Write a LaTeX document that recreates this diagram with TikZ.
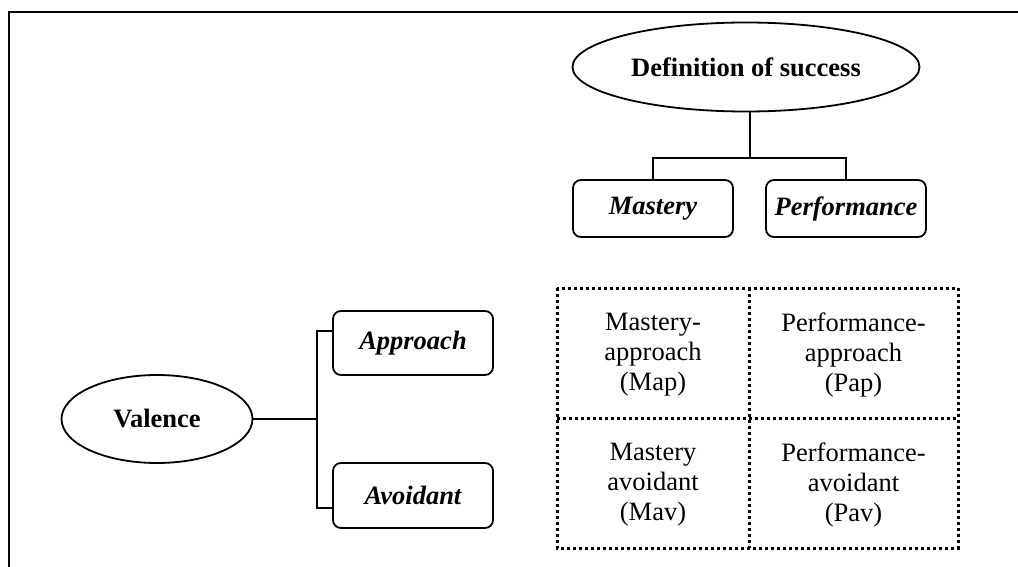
\documentclass[tikz,border=0pt]{standalone}
\usepackage{fontspec}
\setmainfont{Liberation Serif}
\usetikzlibrary{shapes.geometric,calc}
\begin{document}
\begin{tikzpicture}[x=1pt,y=-1pt,
  every node/.style={font=\fontsize{26.5}{30}\selectfont, inner sep=0pt},
  oval/.style={ellipse, draw, line width=1.8pt, font=\fontsize{26.5}{30}\selectfont\bfseries},
  catbox/.style={rectangle, rounded corners=8pt, draw, line width=1.8pt, minimum width=160pt, font=\fontsize{26.5}{30}\selectfont\bfseries\itshape},
  cell/.style={align=center},
  link/.style={line width=1.8pt},
  gridline/.style={line width=3pt, dash pattern=on 3pt off 3pt}]
\useasboundingbox (0,0) rectangle (1018,567);
\draw[line width=2.5pt] (9,567) -- (9,12) -- (1018,12);
% top part
\node[oval, minimum width=347pt, minimum height=89pt] (def) at (746,67) {Definition of success};
\node[catbox, minimum height=57pt] (mast) at (653,208.5) {Mastery};
\node[catbox, minimum height=57pt] (perf) at (846,208.5) {Performance};
\coordinate (jt) at (750,158);
\draw[link] (def.south -| jt) -- (jt);
\draw[link] (mast.north) |- (jt -| perf.north) -- (perf.north);
% left part
\node[oval, minimum width=191pt, minimum height=88pt] (val) at (157,419) {Valence};
\node[catbox, minimum height=64pt] (app) at (413,343) {Approach};
\node[catbox, minimum height=65pt] (avo) at (413,495.5) {Avoidant};
\coordinate (vj) at (317,419);
\draw[link] (val.east) -- (vj);
\draw[link] ($(app.north west)+(0,21)$) -| (vj) |- ($(avo.south west)+(0,-21)$);
% grid
\node[cell] (map) at (653,355) {Mastery-\\approach\\(Map)};
\node[cell] (pap) at (853.5,355) {Performance-\\approach\\(Pap)};
\node[cell] (mav) at (653,485) {Mastery\\avoidant\\(Mav)};
\node[cell] (pav) at (853.5,485) {Performance-\\avoidant\\(Pav)};
\draw[gridline] (557,288) rectangle (958,548);
\draw[gridline] (749,288) -- (749,548);
\draw[gridline] (557,418) -- (958,418);
\end{tikzpicture}
\end{document}
